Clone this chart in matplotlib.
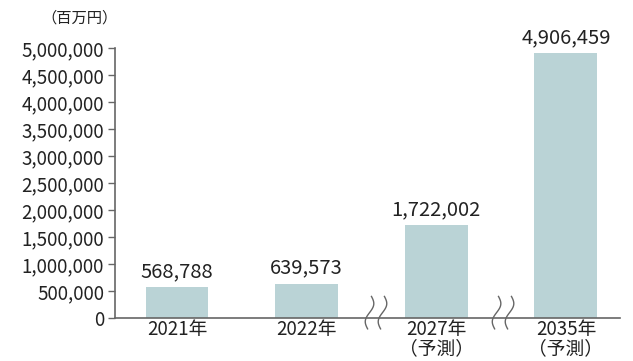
import numpy as np
import matplotlib
matplotlib.use('Agg')
import matplotlib.pyplot as plt

plt.rcParams['font.family'] = ['Noto Sans CJK JP', 'DejaVu Sans']

years = ['2021年', '2022年', '2027年\n（予測）', '2035年\n（予測）']
values = [568788, 639573, 1722002, 4906459]
yticks = [0, 500000, 1000000, 1500000, 2000000, 2500000, 3000000, 3500000, 4000000, 4500000, 5000000]
breaks = [1.55, 2.53]

barColor = '#bad3d6'
axisColor = '#666666'
textColor = '#222222'

fig = plt.figure(figsize=(6.33, 3.61), dpi=100)
ax = fig.add_axes([0.182, 0.119, 0.797, 0.748])

x = np.arange(len(values))
ax.bar(x, values, width=0.485, color=barColor)
for xi, v in zip(x, values):
    ax.text(xi, v + 90000, '{:,}'.format(v), ha='center', va='bottom', fontsize=14.5, color=textColor)

ax.set_xlim(-0.477, 3.415)
ax.set_ylim(0, 5000000)
ax.set_yticks(yticks)
ax.set_yticklabels(['{:,}'.format(t) for t in yticks], fontsize=13.5, color=textColor)
ax.set_xticks(x)
ax.set_xticklabels(years, fontsize=13.5, color=textColor, linespacing=0.85)
ax.tick_params(axis='x', length=0, pad=1)
ax.tick_params(axis='y', length=5, width=1, color=axisColor, pad=3)
for s in ['top', 'right']:
    ax.spines[s].set_visible(False)
for s in ['left', 'bottom']:
    ax.spines[s].set_color(axisColor)
    ax.spines[s].set_linewidth(1.2)

# wavy break marks on the x axis
trans = ax.get_xaxis_transform()
t = np.linspace(0, 1, 60)
for b in breaks:
    for off in [-0.05, 0.05]:
        yy = 0.08 - t * 0.12
        xx = b + off + 0.025 * np.sin(t * 2 * np.pi) - 0.03 * t
        ax.plot(xx, yy, color=axisColor, lw=1, transform=trans, clip_on=False)

fig.text(0.125, 0.95, '（百万円）', ha='center', va='center', fontsize=11, color=textColor)

fig.savefig('out.png', dpi=100)
